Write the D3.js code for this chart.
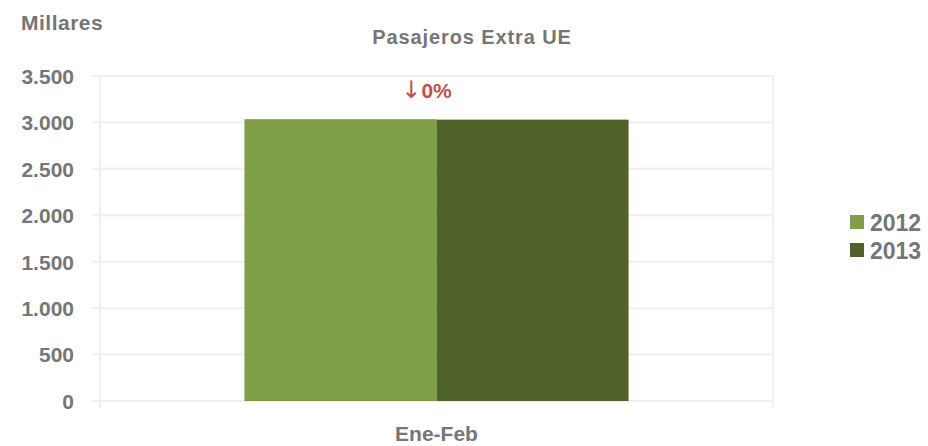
<!DOCTYPE html>
<html>
<head>
<meta charset="utf-8">
<script src="https://cdn.jsdelivr.net/npm/d3@7"></script>
<style>
  body { margin: 0; background: #fff; }
  text { font-family: "Liberation Sans", Arial, sans-serif; fill: #767676; }
</style>
</head>
<body>
<div class="chart"></div>
<script>
// Data
var categories = ["Ene-Feb"];
var years = ["2012", "2013"];
var values2012 = [3035];
var values2013 = [3030];
var yTicks = [0, 500, 1000, 1500, 2000, 2500, 3000, 3500];
var changeLabels = ["0%"];

var colors = { "2012": "#7f9e45", "2013": "#4f6229" };

var svgWidth = 928;
var svgHeight = 446;
var margin = { top: 76, right: 155, bottom: 45, left: 100 };
var width = svgWidth - margin.left - margin.right;
var height = svgHeight - margin.top - margin.bottom;

var svg = d3.select(".chart")
    .append("svg")
    .attr("width", svgWidth)
    .attr("height", svgHeight);

var chart = svg.append("g")
    .attr("transform", "translate(" + margin.left + "," + margin.top + ")");

var x0 = d3.scaleBand()
    .domain(categories)
    .range([0, width])
    .paddingInner(0)
    .paddingOuter(0.376);

var x1 = d3.scaleBand()
    .domain(years)
    .range([0, x0.bandwidth()]);

var y = d3.scaleLinear()
    .domain([0, 3500])
    .range([height, 0]);

// gridlines
chart.selectAll(".grid")
    .data(yTicks)
    .enter()
    .append("line")
    .attr("x1", -8)
    .attr("x2", width)
    .attr("y1", function(d) { return y(d); })
    .attr("y2", function(d) { return y(d); })
    .attr("stroke", "#efefef")
    .attr("stroke-width", 2);

// category separators
[0, width].forEach(function(xx) {
    chart.append("line")
        .attr("x1", xx).attr("x2", xx)
        .attr("y1", 0).attr("y2", height + 7)
        .attr("stroke", "#efefef")
        .attr("stroke-width", 2);
});

// y axis labels
var leftAxis = d3.axisLeft(y)
    .tickValues(yTicks)
    .tickSize(0)
    .tickPadding(26)
    .tickFormat(function(d) { return d3.format(",")(d).replace(",", "."); });

var yAxis = chart.append("g").call(leftAxis);
yAxis.select(".domain").remove();
yAxis.selectAll("text")
    .attr("font-size", "21px")
    .attr("font-weight", "bold")
    .attr("font-family", "Liberation Sans, Arial, sans-serif")
    .attr("fill", "#767676")
    .attr("dy", "0.35em");

// bars
var series = [
    { year: "2012", values: values2012 },
    { year: "2013", values: values2013 }
];

series.forEach(function(s) {
    chart.selectAll(".bar-" + s.year)
        .data(s.values)
        .enter()
        .append("rect")
        .attr("x", function(d, i) { return x0(categories[i]) + x1(s.year); })
        .attr("y", function(d) { return y(d); })
        .attr("width", x1.bandwidth())
        .attr("height", function(d) { return height - y(d); })
        .attr("fill", colors[s.year]);
});

// change annotation
var change = chart.selectAll(".change")
    .data(changeLabels)
    .enter()
    .append("text")
    .attr("x", function(d, i) { return x0(categories[i]) + x0.bandwidth() / 2 - 10; })
    .attr("y", function(d, i) { return y(Math.max(values2012[i], values2013[i])) - 21; })
    .attr("text-anchor", "middle")
    .attr("font-size", "21px")
    .attr("font-weight", "bold")
    .style("fill", "#c0504d");
change.append("tspan")
    .attr("font-family", "DejaVu Sans, sans-serif")
    .attr("font-weight", "normal")
    .attr("font-size", "24px")
    .text("\u2193");
change.append("tspan")
    .text(function(d) { return d; });

// x axis labels
chart.selectAll(".xlabel")
    .data(categories)
    .enter()
    .append("text")
    .attr("x", function(d) { return x0(d) + x0.bandwidth() / 2; })
    .attr("y", height + 40)
    .attr("text-anchor", "middle")
    .attr("font-size", "21px")
    .attr("font-weight", "bold")
    .text(function(d) { return d; });

// titles
svg.append("text")
    .attr("x", 21)
    .attr("y", 30)
    .attr("font-size", "21px")
    .attr("font-weight", "bold")
    .attr("letter-spacing", "0.5px")
    .text("Millares");

svg.append("text")
    .attr("x", 472)
    .attr("y", 44)
    .attr("text-anchor", "middle")
    .attr("font-size", "20px")
    .attr("font-weight", "bold")
    .attr("letter-spacing", "0.9px")
    .text("Pasajeros Extra UE");

// legend
var legend = svg.append("g")
    .attr("transform", "translate(850, 215)");

years.forEach(function(yr, i) {
    var g = legend.append("g").attr("transform", "translate(0," + (i * 28) + ")");
    g.append("rect")
        .attr("width", 14)
        .attr("height", 14)
        .attr("fill", colors[yr]);
    g.append("text")
        .attr("x", 20)
        .attr("y", 8)
        .attr("dy", "0.35em")
        .attr("font-size", "23px")
        .attr("font-weight", "bold")
        .text(yr);
});
</script>
</body>
</html>
